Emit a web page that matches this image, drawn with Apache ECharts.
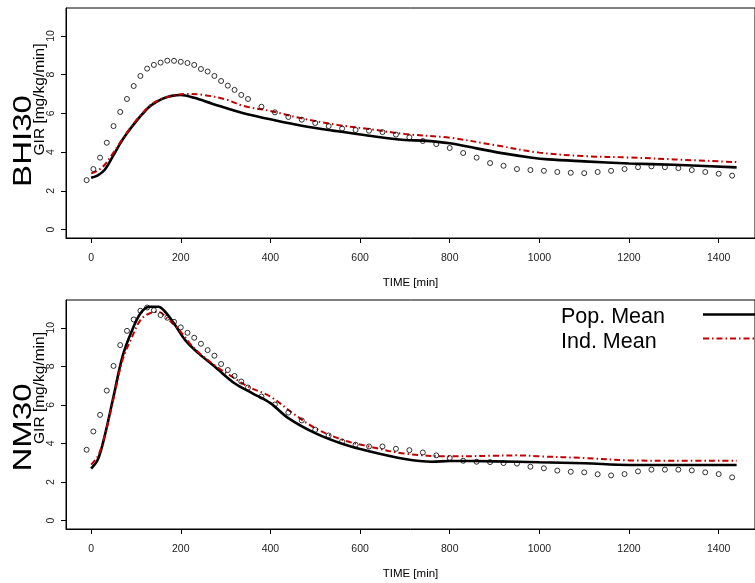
<!DOCTYPE html>
<html>
<head>
<meta charset="utf-8">
<script src="https://cdn.jsdelivr.net/npm/echarts@6/dist/echarts.min.js"></script>
<style>
html,body{margin:0;padding:0;background:#fff;}
#chart{width:755px;height:583px;}
</style>
</head>
<body>
<div id="chart"></div>
<script>
// ---- data ----
var xTicks = [0, 200, 400, 600, 800, 1000, 1200, 1400];
var yTicks = [0, 2, 4, 6, 8, 10];

var obsTime = [-10,5,20,35,50,65,80,95,110,125,140,155,170,185,200,215,230,245,260,275,290,305,320,335,350,
  380,410,440,470,500,530,560,590,620,650,680,
  710,740,770,800,830,860,890,920,950,980,1010,1040,1070,1100,1130,1160,1190,1220,1250,1280,1310,1340,1370,1400,1430];

var bhiObs = [2.55,3.12,3.71,4.48,5.34,6.07,6.74,7.41,7.93,8.31,8.50,8.62,8.72,8.71,8.66,8.60,8.50,8.29,8.16,7.93,7.67,7.43,7.21,6.95,6.74,
  6.34,6.05,5.81,5.67,5.50,5.34,5.21,5.14,5.10,5.03,4.90,
  4.76,4.57,4.41,4.21,3.95,3.71,3.43,3.29,3.12,3.07,3.03,2.97,2.93,2.91,2.97,3.03,3.12,3.22,3.26,3.22,3.17,3.07,2.97,2.88,2.78];

var nmObs = [3.67,4.62,5.48,6.74,8.02,9.10,9.84,10.43,10.88,11.05,10.91,10.66,10.52,10.31,10.02,9.74,9.48,9.17,8.84,8.55,8.12,7.81,7.50,7.21,6.90,
  6.43,6.02,5.60,5.19,4.71,4.41,4.10,3.93,3.84,3.84,3.72,
  3.65,3.53,3.38,3.24,3.10,3.05,3.03,2.98,2.95,2.79,2.71,2.59,2.53,2.50,2.40,2.34,2.41,2.55,2.64,2.64,2.64,2.60,2.50,2.41,2.24];

var bhiPopTime = [0,15,30,50,65,80,100,115,130,145,160,180,200,230,270,340,400,470,550,620,700,740,800,860,920,980,1020,1100,1200,1300,1440];
var bhiPop     = [2.67,2.80,3.07,3.84,4.45,4.97,5.57,5.98,6.34,6.58,6.76,6.90,6.95,6.80,6.50,6.00,5.69,5.36,5.07,4.84,4.62,4.59,4.45,4.19,3.93,3.72,3.62,3.52,3.41,3.34,3.21];

var bhiIndTime = [0,15,30,50,65,80,100,115,130,145,160,180,210,250,300,340,400,470,550,620,700,800,900,1000,1100,1200,1300,1440];
var bhiInd     = [2.90,3.05,3.33,3.97,4.50,5.00,5.62,6.02,6.38,6.62,6.78,6.90,7.00,6.95,6.72,6.38,6.12,5.74,5.40,5.19,4.93,4.74,4.36,3.97,3.79,3.72,3.62,3.48];

var nmPopTime = [0,15,30,50,70,90,110,130,150,165,185,210,240,280,320,360,400,440,500,560,620,700,760,800,900,1000,1100,1200,1300,1440];
var nmPop     = [2.69,3.16,4.36,6.43,8.50,9.79,10.74,11.09,11.09,10.83,10.22,9.36,8.67,7.90,7.12,6.60,6.09,5.31,4.53,3.98,3.59,3.19,3.05,3.09,3.07,3.02,2.97,2.88,2.88,2.88];

var nmIndTime = [0,15,30,50,70,90,110,130,150,170,200,230,280,320,350,400,450,500,560,620,700,800,900,950,1000,1100,1200,1300,1440];
var nmInd     = [2.90,3.33,4.36,6.34,8.33,9.45,10.40,10.74,10.83,10.48,9.79,8.93,7.98,7.38,6.95,6.43,5.57,4.79,4.19,3.84,3.47,3.33,3.36,3.38,3.33,3.24,3.12,3.10,3.10];

var panelNames = ['BHI30', 'NM30'];
var yName = 'GIR [mg/kg/min]';
var xName = 'TIME [min]';
var legendNames = ['Pop. Mean', 'Ind. Mean'];

function zip(t, v) { return t.map(function (x, i) { return [x, v[i]]; }); }

var FONT = 'Liberation Sans, Arial, sans-serif';
var RED = '#c00000';
function plain(v) { return String(v); }

function xAx(gi) {
  return {
    type: 'value', gridIndex: gi, min: -56, max: 1481,
    name: xName, nameLocation: 'middle', nameGap: 39,
    nameTextStyle: { fontFamily: FONT, fontSize: 11.5, color: '#000' },
    axisLine: { show: true, onZero: false, lineStyle: { color: '#000', width: 1 } },
    axisTick: { show: true, length: 5, lineStyle: { color: '#000' }, customValues: xTicks },
    axisLabel: { show: true, fontFamily: FONT, fontSize: 10.5, color: '#222', margin: 15, customValues: xTicks, formatter: plain },
    splitLine: { show: false }
  };
}
function yAx(gi) {
  return {
    type: 'value', gridIndex: gi, min: -0.44, max: 11.44,
    axisLine: { show: true, onZero: false, lineStyle: { color: '#000', width: 1 } },
    axisTick: { show: true, length: 5, lineStyle: { color: '#000' }, customValues: yTicks },
    axisLabel: { show: true, rotate: 90, fontFamily: FONT, fontSize: 10.5, color: '#222', margin: 9, customValues: yTicks, formatter: plain },
    splitLine: { show: false }
  };
}

function obsSeries(gi, vals) {
  return {
    type: 'scatter', xAxisIndex: gi, yAxisIndex: gi, data: zip(obsTime, vals),
    symbol: 'circle', symbolSize: 5,
    itemStyle: { color: 'rgba(0,0,0,0)', borderColor: '#000', borderWidth: 1 },
    z: 5, silent: true
  };
}
function popSeries(gi, t, v) {
  return {
    type: 'line', name: legendNames[0], xAxisIndex: gi, yAxisIndex: gi, data: zip(t, v),
    showSymbol: false, smooth: 0.35, lineStyle: { color: '#000', width: 2.6 }, z: 3, silent: true
  };
}
function indSeries(gi, t, v) {
  return {
    type: 'line', name: legendNames[1], xAxisIndex: gi, yAxisIndex: gi, data: zip(t, v),
    showSymbol: false, smooth: 0.35, lineStyle: { color: RED, width: 2, type: [6, 3, 1.5, 3] }, z: 4, silent: true
  };
}

function yLabels(cxBig, cyBig, cxSmall, cySmall, big) {
  return [
    { type: 'text', x: cxBig, y: cyBig, rotation: Math.PI / 2, scaleX: 1.27,
      style: { text: big, fontFamily: FONT, fontSize: 26, fill: '#000', align: 'center', verticalAlign: 'middle' } },
    { type: 'text', x: cxSmall, y: cySmall, rotation: Math.PI / 2,
      style: { text: yName, fontFamily: FONT, fontSize: 15.5, fill: '#000', align: 'center', verticalAlign: 'middle' } }
  ];
}

var graphics = [].concat(
  yLabels(24, 141, 40, 99.5, panelNames[0]),
  yLabels(24, 427.5, 40, 388, panelNames[1]),
  [
    { type: 'text', x: 561, y: 317.5, style: { text: legendNames[0], fontFamily: FONT, fontSize: 21.5, fill: '#000', align: 'left', verticalAlign: 'middle' } },
    { type: 'text', x: 561, y: 342, style: { text: legendNames[1], fontFamily: FONT, fontSize: 21.5, fill: '#000', align: 'left', verticalAlign: 'middle' } },
    { type: 'line', shape: { x1: 703, y1: 314.5, x2: 760, y2: 314.5 }, style: { stroke: '#000', lineWidth: 2.4 } },
    { type: 'line', shape: { x1: 703, y1: 338.5, x2: 760, y2: 338.5 }, style: { stroke: RED, lineWidth: 2, lineDash: [6, 3, 1.5, 3] } }
  ]
);

var chart = echarts.init(document.getElementById('chart'), null, { renderer: 'canvas' });
chart.setOption({
  animation: false,
  backgroundColor: '#fff',
  grid: [
    { left: 66, top: 8, width: 691, height: 230, show: true, borderColor: '#000', borderWidth: 1, backgroundColor: 'transparent' },
    { left: 66, top: 300, width: 691, height: 229, show: true, borderColor: '#000', borderWidth: 1, backgroundColor: 'transparent' }
  ],
  xAxis: [xAx(0), xAx(1)],
  yAxis: [yAx(0), yAx(1)],
  series: [
    popSeries(0, bhiPopTime, bhiPop), indSeries(0, bhiIndTime, bhiInd), obsSeries(0, bhiObs),
    popSeries(1, nmPopTime, nmPop), indSeries(1, nmIndTime, nmInd), obsSeries(1, nmObs)
  ],
  graphic: graphics
});
</script>
</body>
</html>
